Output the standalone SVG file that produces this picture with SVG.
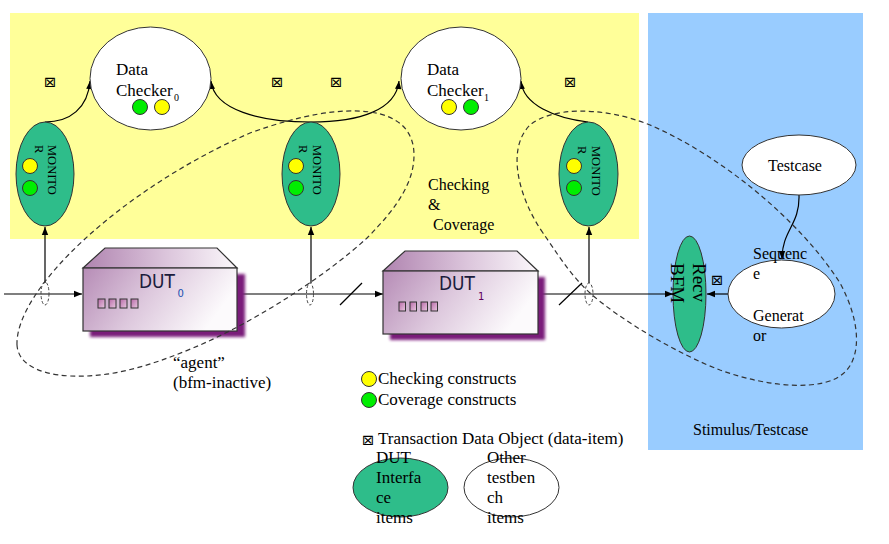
<svg xmlns="http://www.w3.org/2000/svg" width="889" height="544" viewBox="0 0 889 544">
<style>
.t{font-family:"Liberation Serif","Times New Roman",serif;fill:#000}
.s17{font-size:17px}
.s16{font-size:16px}
.mon{font-size:12.5px}
.sym{font-family:"DejaVu Sans",sans-serif;font-size:14.5px;fill:#000;text-anchor:middle}
.dut{font-family:"DejaVu Sans",sans-serif;font-size:17px;fill:#1c1c3c}
.ln{fill:none;stroke:#000;stroke-width:1.2}
.dash{fill:none;stroke:#333;stroke-width:1.2;stroke-dasharray:5 3.5}
.sdash{fill:none;stroke:#444;stroke-width:1;stroke-dasharray:3 2}
.grn{fill:#2ebd8a;stroke:#333;stroke-width:1}
.wht{fill:#fff;stroke:#333;stroke-width:1}
.yc{fill:#ffff00;stroke:#333;stroke-width:1}
.gc{fill:#00ee00;stroke:#333;stroke-width:1}
.front{fill:url(#gf);stroke:#333;stroke-width:1.2}
.top{fill:url(#gt);stroke:#333;stroke-width:1.2}
.sq{fill:url(#gs);stroke:#333;stroke-width:1}
.shd{fill:#7a1a7a;filter:url(#blur)}
</style>
<defs>
<marker id="ah" viewBox="0 0 10 10" refX="10" refY="5" markerWidth="9" markerHeight="8" markerUnits="userSpaceOnUse" orient="auto"><path d="M0,1 L10,5 L0,9 z" fill="#000"/></marker>
<linearGradient id="gf" x1="0" y1="0" x2="1" y2="0.3"><stop offset="0" stop-color="#b68cb6"/><stop offset="0.5" stop-color="#ddc8dd"/><stop offset="1" stop-color="#fcfafc"/></linearGradient>
<linearGradient id="gt" x1="0" y1="0" x2="1" y2="0"><stop offset="0" stop-color="#b084b0"/><stop offset="0.55" stop-color="#dcc6dc"/><stop offset="1" stop-color="#fbf8fb"/></linearGradient>
<linearGradient id="gs" x1="0" y1="0" x2="1" y2="1"><stop offset="0" stop-color="#b86aa8"/><stop offset="1" stop-color="#e8c8e0"/></linearGradient>
<filter id="blur" x="-10%" y="-10%" width="120%" height="120%"><feGaussianBlur stdDeviation="1.8"/></filter>
</defs>

<g id="regions">
<rect x="10" y="13" width="629" height="226" fill="#ffff99"/>
<rect x="648" y="13" width="215" height="437" fill="#99ccff"/>
</g>

<g id="connectors">
<path class="ln" d="M45 122 C70 122 88 108 90 81" marker-end="url(#ah)"/>
<path class="ln" d="M311 122 C260 122 214 110 211 81" marker-end="url(#ah)"/>
<path class="ln" d="M311 122 C360 122 396 110 399 81" marker-end="url(#ah)"/>
<path class="ln" d="M588 122 C555 118 523 105 521 81" marker-end="url(#ah)"/>
<path class="ln" d="M45 283 L45 227" marker-end="url(#ah)"/>
<path class="ln" d="M311 283 L311 227" marker-end="url(#ah)"/>
<path class="ln" d="M589 283 L589 227" marker-end="url(#ah)"/>
<path class="ln" d="M4 294 L82 294" marker-end="url(#ah)"/>
<path class="ln" d="M237 294 L383 294" marker-end="url(#ah)"/>
<path class="ln" d="M538 294 L673 294" marker-end="url(#ah)"/>
<path class="ln" d="M728 294 L707 294" marker-end="url(#ah)"/>
<path class="ln" d="M799 195 C800 225 782 230 782 259" marker-end="url(#ah)"/>
<path class="ln" d="M340 305 L362 283"/>
<path class="ln" d="M559 305 L582 283"/>
<ellipse class="sdash" cx="45" cy="293.5" rx="4" ry="11.5"/>
<ellipse class="sdash" cx="310" cy="294" rx="3.5" ry="11"/>
<ellipse class="sdash" cx="589" cy="294" rx="4" ry="11"/>
</g>

<g id="dc0">
<ellipse class="wht" cx="150.5" cy="78.5" rx="60.5" ry="51.5"/>
<text class="t s17" x="116" y="75">Data</text>
<text class="t s17" x="116" y="96">Checker</text>
<text class="t" x="174" y="101" font-size="10">0</text>
<circle class="gc" cx="140" cy="107" r="7.5"/>
<circle class="yc" cx="162" cy="107" r="7.5"/>
</g>
<g id="dc1">
<ellipse class="wht" cx="461" cy="78.5" rx="60" ry="51.5"/>
<text class="t s17" x="427" y="75">Data</text>
<text class="t s17" x="427" y="96">Checker</text>
<text class="t" x="484" y="101" font-size="10">1</text>
<circle class="yc" cx="449" cy="107" r="7.5"/>
<circle class="gc" cx="471" cy="107" r="7.5"/>
</g>

<g id="mon0">
<ellipse class="grn" cx="45" cy="174" rx="29" ry="52"/>
<text class="t mon" transform="translate(48,145) rotate(90)">MONITO</text>
<text class="t mon" transform="translate(35,145) rotate(90)">R</text>
<circle class="yc" cx="30" cy="166" r="7.5"/>
<circle class="gc" cx="30" cy="188" r="7.5"/>
</g>
<g id="mon1">
<ellipse class="grn" cx="311" cy="174" rx="29" ry="52"/>
<text class="t mon" transform="translate(313,145) rotate(90)">MONITO</text>
<text class="t mon" transform="translate(299,145) rotate(90)">R</text>
<circle class="yc" cx="296" cy="166" r="7.5"/>
<circle class="gc" cx="296" cy="188" r="7.5"/>
</g>
<g id="mon2">
<ellipse class="grn" cx="588.5" cy="174" rx="29.5" ry="52"/>
<text class="t mon" transform="translate(592,146) rotate(90)">MONITO</text>
<text class="t mon" transform="translate(578,146) rotate(90)">R</text>
<circle class="yc" cx="574" cy="166" r="7.5"/>
<circle class="gc" cx="574" cy="188" r="7.5"/>
</g>

<g id="dut0">
<rect class="shd" x="90" y="274" width="155" height="63"/>
<polygon class="top" points="83,268 105,248 217,248 237,268"/>
<rect class="front" x="83" y="268" width="154" height="63"/>
<text class="dut" transform="translate(139,288) scale(1,1.12)">DUT</text>
<text x="177.5" y="297" font-family="DejaVu Sans,sans-serif" font-size="10" fill="#2050b0">0</text>
<rect class="sq" x="98" y="299" width="7" height="9"/>
<rect class="sq" x="109" y="299" width="7" height="9"/>
<rect class="sq" x="120" y="299" width="7" height="9"/>
<rect class="sq" x="131" y="299" width="7" height="9"/>
</g>
<g id="dut1">
<rect class="shd" x="390" y="277" width="155" height="63"/>
<polygon class="top" points="383,271 405,251 517,251 538,271"/>
<rect class="front" x="383" y="271" width="155" height="63"/>
<text class="dut" transform="translate(439,290) scale(1,1.12)">DUT</text>
<text x="478" y="300" font-family="DejaVu Sans,sans-serif" font-size="10" fill="#600060">1</text>
<rect class="sq" x="399" y="302" width="6.5" height="9"/>
<rect class="sq" x="410" y="302" width="6.5" height="9"/>
<rect class="sq" x="421" y="302" width="6.5" height="9"/>
<rect class="sq" x="431" y="302" width="6.5" height="9"/>
</g>

<g id="bfm">
<ellipse class="grn" cx="689.5" cy="294" rx="16.5" ry="58"/>
<text class="t" font-size="19" transform="translate(693,263) rotate(90)">Recv</text>
<text class="t" font-size="19" transform="translate(671,263) rotate(90)">BFM</text>
</g>
<g id="seqgen">
<ellipse class="wht" cx="781.5" cy="294" rx="53.5" ry="34"/>
<text class="t s16" x="753" y="259">Sequenc</text>
<text class="t s16" x="753" y="279">e</text>
<text class="t s16" x="753" y="320.5">Generat</text>
<text class="t s16" x="753" y="341">or</text>
</g>
<g id="testcase">
<ellipse class="wht" cx="799" cy="165" rx="57" ry="30"/>
<text class="t s16" x="768" y="171">Testcase</text>
</g>

<g id="agents">
<path class="dash" d="M17 345 C15 290 120 190 250 133 C300 115 340 108 370 112 C400 116 414 132 414 155 C414 180 400 205 367 238 C330 272 260 320 193 348 C150 366 110 378 70 376 C35 374 18 362 17 345 Z"/>
<path class="dash" d="M543 233 C520 200 505 150 530 125 C550 108 600 105 650 125 C720 155 800 220 840 283 C860 320 862 355 845 372 C825 392 770 388 720 370 C680 355 620 320 590 293 C570 275 555 250 543 233 Z"/>
</g>

<g id="data-items">
<text class="sym" x="50" y="87">⊠</text>
<text class="sym" x="277" y="87">⊠</text>
<text class="sym" x="336" y="87">⊠</text>
<text class="sym" x="570" y="87">⊠</text>
<text class="sym" x="717" y="285">⊠</text>
</g>

<g id="labels">
<text class="t s16" x="428" y="190">Checking</text>
<text class="t s16" x="428" y="210">&amp;</text>
<text class="t s16" x="433" y="230">Coverage</text>
<text class="t s17" x="173" y="368">“agent”</text>
<text class="t s17" x="173" y="388">(bfm-inactive)</text>
<text class="t s16" x="693" y="435">Stimulus/Testcase</text>
</g>

<g id="legend">
<circle class="yc" cx="369" cy="379" r="7.5"/>
<text class="t s17" x="378" y="384">Checking constructs</text>
<circle class="gc" cx="369" cy="400" r="7.5"/>
<text class="t s17" x="378" y="405">Coverage constructs</text>
<text class="sym" x="368" y="445">⊠</text>
<text class="t s17" x="378" y="444">Transaction Data Object (data-item)</text>
<ellipse class="grn" cx="400.5" cy="487.5" rx="47.5" ry="29.5"/>
<ellipse class="wht" cx="511.5" cy="487.5" rx="47.5" ry="29.5"/>
<text class="t s17" x="376" y="463">DUT</text>
<text class="t s17" x="376" y="483">Interfa</text>
<text class="t s17" x="376" y="503">ce</text>
<text class="t s17" x="376" y="523">items</text>
<text class="t s17" x="487" y="463">Other</text>
<text class="t s17" x="487" y="483">testben</text>
<text class="t s17" x="487" y="503">ch</text>
<text class="t s17" x="487" y="523">items</text>
</g>
</svg>
